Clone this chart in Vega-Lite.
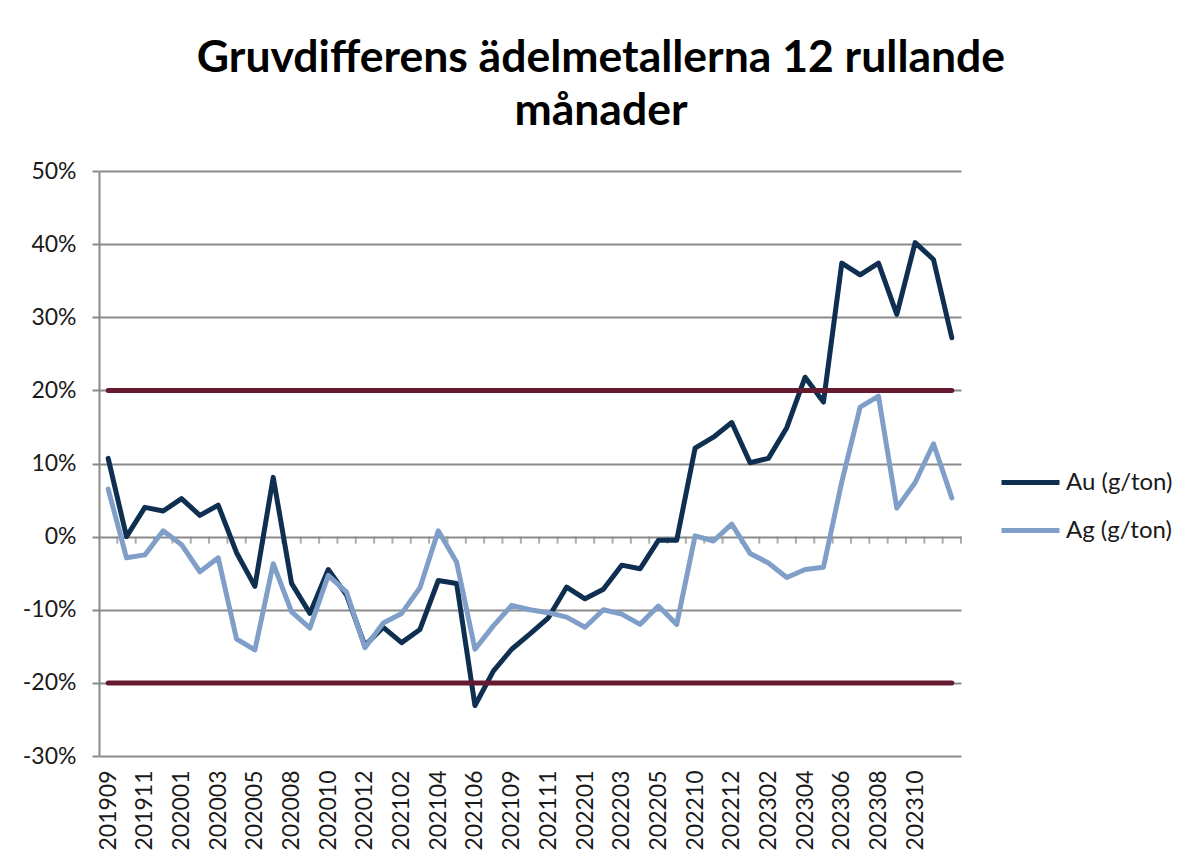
{
  "$schema": "https://vega.github.io/schema/vega-lite/v6.json",
  "autosize": {"type": "none"},
  "padding": {"left": 99, "top": 171, "right": 232, "bottom": 111},
  "width": 862,
  "height": 585,
  "background": "white",
  "title": {
    "text": ["Gruvdifferens ädelmetallerna 12 rullande", "månader"],
    "font": "Lato",
    "fontSize": 44.5,
    "fontWeight": "bold",
    "color": "#000000",
    "lineHeight": 53,
    "anchor": "middle",
    "dx": 71,
    "offset": 26
  },
  "config": {
    "view": {"stroke": null},
    "axis": {"labelFont": "Lato", "labelFontSize": 23, "labelColor": "#1a1a1a"},
    "legend": {"labelFont": "Lato", "labelFontSize": 24, "labelColor": "#1a1a1a"}
  },
  "datasets": {
    "series": [
      {"m": "201909", "metal": "Au (g/ton)", "v": 0.107}, {"m": "201909", "metal": "Ag (g/ton)", "v": 0.065},
      {"m": "201910", "metal": "Au (g/ton)", "v": 0.000}, {"m": "201910", "metal": "Ag (g/ton)", "v": -0.029},
      {"m": "201911", "metal": "Au (g/ton)", "v": 0.040}, {"m": "201911", "metal": "Ag (g/ton)", "v": -0.025},
      {"m": "201912", "metal": "Au (g/ton)", "v": 0.035}, {"m": "201912", "metal": "Ag (g/ton)", "v": 0.008},
      {"m": "202001", "metal": "Au (g/ton)", "v": 0.052}, {"m": "202001", "metal": "Ag (g/ton)", "v": -0.011},
      {"m": "202002", "metal": "Au (g/ton)", "v": 0.029}, {"m": "202002", "metal": "Ag (g/ton)", "v": -0.048},
      {"m": "202003", "metal": "Au (g/ton)", "v": 0.043}, {"m": "202003", "metal": "Ag (g/ton)", "v": -0.029},
      {"m": "202004", "metal": "Au (g/ton)", "v": -0.022}, {"m": "202004", "metal": "Ag (g/ton)", "v": -0.140},
      {"m": "202005", "metal": "Au (g/ton)", "v": -0.068}, {"m": "202005", "metal": "Ag (g/ton)", "v": -0.155},
      {"m": "202006", "metal": "Au (g/ton)", "v": 0.081}, {"m": "202006", "metal": "Ag (g/ton)", "v": -0.037},
      {"m": "202008", "metal": "Au (g/ton)", "v": -0.064}, {"m": "202008", "metal": "Ag (g/ton)", "v": -0.103},
      {"m": "202009", "metal": "Au (g/ton)", "v": -0.105}, {"m": "202009", "metal": "Ag (g/ton)", "v": -0.125},
      {"m": "202010", "metal": "Au (g/ton)", "v": -0.045}, {"m": "202010", "metal": "Ag (g/ton)", "v": -0.053},
      {"m": "202011", "metal": "Au (g/ton)", "v": -0.080}, {"m": "202011", "metal": "Ag (g/ton)", "v": -0.076},
      {"m": "202012", "metal": "Au (g/ton)", "v": -0.149}, {"m": "202012", "metal": "Ag (g/ton)", "v": -0.152},
      {"m": "202101", "metal": "Au (g/ton)", "v": -0.124}, {"m": "202101", "metal": "Ag (g/ton)", "v": -0.118},
      {"m": "202102", "metal": "Au (g/ton)", "v": -0.145}, {"m": "202102", "metal": "Ag (g/ton)", "v": -0.105},
      {"m": "202103", "metal": "Au (g/ton)", "v": -0.127}, {"m": "202103", "metal": "Ag (g/ton)", "v": -0.070},
      {"m": "202104", "metal": "Au (g/ton)", "v": -0.060}, {"m": "202104", "metal": "Ag (g/ton)", "v": 0.008},
      {"m": "202105", "metal": "Au (g/ton)", "v": -0.064}, {"m": "202105", "metal": "Ag (g/ton)", "v": -0.035},
      {"m": "202106", "metal": "Au (g/ton)", "v": -0.231}, {"m": "202106", "metal": "Ag (g/ton)", "v": -0.154},
      {"m": "202107", "metal": "Au (g/ton)", "v": -0.184}, {"m": "202107", "metal": "Ag (g/ton)", "v": -0.122},
      {"m": "202109", "metal": "Au (g/ton)", "v": -0.154}, {"m": "202109", "metal": "Ag (g/ton)", "v": -0.094},
      {"m": "202110", "metal": "Au (g/ton)", "v": -0.133}, {"m": "202110", "metal": "Ag (g/ton)", "v": -0.100},
      {"m": "202111", "metal": "Au (g/ton)", "v": -0.111}, {"m": "202111", "metal": "Ag (g/ton)", "v": -0.104},
      {"m": "202112", "metal": "Au (g/ton)", "v": -0.069}, {"m": "202112", "metal": "Ag (g/ton)", "v": -0.110},
      {"m": "202201", "metal": "Au (g/ton)", "v": -0.085}, {"m": "202201", "metal": "Ag (g/ton)", "v": -0.124},
      {"m": "202202", "metal": "Au (g/ton)", "v": -0.072}, {"m": "202202", "metal": "Ag (g/ton)", "v": -0.100},
      {"m": "202203", "metal": "Au (g/ton)", "v": -0.039}, {"m": "202203", "metal": "Ag (g/ton)", "v": -0.106},
      {"m": "202204", "metal": "Au (g/ton)", "v": -0.044}, {"m": "202204", "metal": "Ag (g/ton)", "v": -0.120},
      {"m": "202205", "metal": "Au (g/ton)", "v": -0.005}, {"m": "202205", "metal": "Ag (g/ton)", "v": -0.095},
      {"m": "202206", "metal": "Au (g/ton)", "v": -0.005}, {"m": "202206", "metal": "Ag (g/ton)", "v": -0.120},
      {"m": "202210", "metal": "Au (g/ton)", "v": 0.121}, {"m": "202210", "metal": "Ag (g/ton)", "v": 0.001},
      {"m": "202211", "metal": "Au (g/ton)", "v": 0.136}, {"m": "202211", "metal": "Ag (g/ton)", "v": -0.006},
      {"m": "202212", "metal": "Au (g/ton)", "v": 0.156}, {"m": "202212", "metal": "Ag (g/ton)", "v": 0.017},
      {"m": "202301", "metal": "Au (g/ton)", "v": 0.101}, {"m": "202301", "metal": "Ag (g/ton)", "v": -0.023},
      {"m": "202302", "metal": "Au (g/ton)", "v": 0.107}, {"m": "202302", "metal": "Ag (g/ton)", "v": -0.036},
      {"m": "202303", "metal": "Au (g/ton)", "v": 0.149}, {"m": "202303", "metal": "Ag (g/ton)", "v": -0.056},
      {"m": "202304", "metal": "Au (g/ton)", "v": 0.218}, {"m": "202304", "metal": "Ag (g/ton)", "v": -0.045},
      {"m": "202305", "metal": "Au (g/ton)", "v": 0.184}, {"m": "202305", "metal": "Ag (g/ton)", "v": -0.042},
      {"m": "202306", "metal": "Au (g/ton)", "v": 0.374}, {"m": "202306", "metal": "Ag (g/ton)", "v": 0.075},
      {"m": "202307", "metal": "Au (g/ton)", "v": 0.358}, {"m": "202307", "metal": "Ag (g/ton)", "v": 0.177},
      {"m": "202308", "metal": "Au (g/ton)", "v": 0.374}, {"m": "202308", "metal": "Ag (g/ton)", "v": 0.192},
      {"m": "202309", "metal": "Au (g/ton)", "v": 0.304}, {"m": "202309", "metal": "Ag (g/ton)", "v": 0.039},
      {"m": "202310", "metal": "Au (g/ton)", "v": 0.402}, {"m": "202310", "metal": "Ag (g/ton)", "v": 0.074},
      {"m": "202311", "metal": "Au (g/ton)", "v": 0.379}, {"m": "202311", "metal": "Ag (g/ton)", "v": 0.127},
      {"m": "202312", "metal": "Au (g/ton)", "v": 0.272}, {"m": "202312", "metal": "Ag (g/ton)", "v": 0.053}
    ],
    "limits": [
      {"from": "201909", "to": "202312", "v": 0.2},
      {"from": "201909", "to": "202312", "v": -0.2}
    ]
  },
  "layer": [
    {
      "data": {"name": "series"},
      "transform": [{"filter": "datum.metal === 'Au (g/ton)'"}],
      "mark": {"type": "tick", "orient": "vertical", "size": 7, "thickness": 2, "color": "#8a8a8a", "xOffset": 9.17, "yOffset": 3.5},
      "encoding": {
        "x": {"field": "m", "type": "ordinal", "sort": null, "scale": {"type": "point", "padding": 0.5}},
        "y": {"datum": 0, "type": "quantitative"}
      }
    },
    {
      "data": {"name": "series"},
      "mark": {"type": "line", "strokeWidth": 5, "strokeJoin": "round", "strokeCap": "round"},
      "encoding": {
        "x": {
          "field": "m", "type": "ordinal", "sort": null, "title": null,
          "scale": {"type": "point", "padding": 0.5},
          "axis": {
            "values": ["201909","201911","202001","202003","202005","202008","202010","202012","202102","202104","202106","202109","202111","202201","202203","202205","202210","202212","202302","202304","202306","202308","202310"],
            "labelAngle": 270, "ticks": false, "tickSize": 0, "domain": false, "grid": false, "labelPadding": 14
          }
        },
        "y": {
          "field": "v", "type": "quantitative", "title": null,
          "scale": {"domain": [-0.3, 0.5], "nice": false, "zero": false},
          "axis": {
            "values": [-0.3, -0.2, -0.1, 0, 0.1, 0.2, 0.3, 0.4, 0.5],
            "format": ".0%",
            "labelExpr": "replace(datum.label, '\u2212', '-')",
            "grid": true, "gridColor": "#8a8a8a", "gridWidth": 2,
            "domain": true, "domainColor": "#8a8a8a", "domainWidth": 2,
            "ticks": true, "tickColor": "#8a8a8a", "tickWidth": 2, "tickSize": 7,
            "labelPadding": 16
          }
        },
        "color": {
          "field": "metal", "type": "nominal", "title": null,
          "scale": {"domain": ["Au (g/ton)", "Ag (g/ton)"], "range": ["#0e2f50", "#7f9fc9"]},
          "legend": {
            "orient": "none", "legendX": 900, "legendY": 280,
            "symbolType": "stroke", "symbolSize": 3364, "symbolStrokeWidth": 5,
            "labelOffset": 4, "rowPadding": 4, "padding": 0
          }
        }
      }
    },
    {
      "data": {"name": "limits"},
      "mark": {"type": "rule", "strokeWidth": 5, "strokeCap": "round", "color": "#661a30"},
      "encoding": {
        "x": {"field": "from", "type": "ordinal"},
        "x2": {"field": "to"},
        "y": {"field": "v", "type": "quantitative"}
      }
    }
  ]
}
